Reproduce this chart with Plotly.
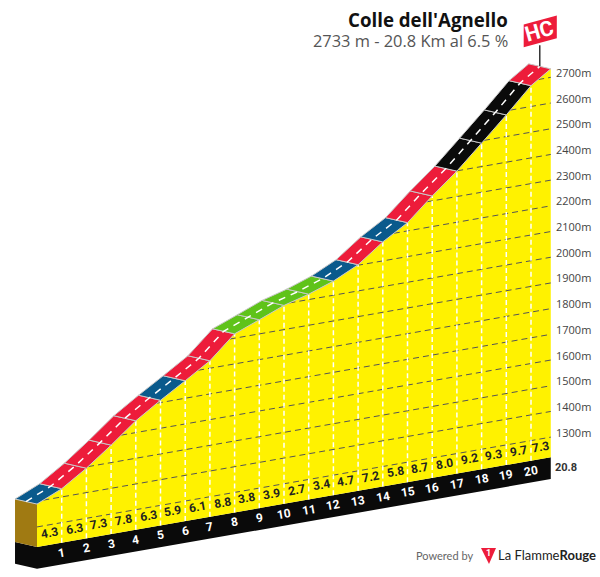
import plotly.graph_objects as go

# km marks, and the elevation of the road at each of them
km = [0, 1, 2, 3, 4, 5, 6, 7, 8, 9, 10, 11, 12, 13, 14, 15, 16, 17, 18, 19, 20, 20.8]
elev = [1389, 1432, 1495, 1568, 1646, 1709, 1768, 1829, 1917, 1955, 1994, 2021, 2055,
        2102, 2174, 2232, 2319, 2399, 2491, 2584, 2681, 2733]
grades = [4.3, 6.3, 7.3, 7.8, 6.3, 5.9, 6.1, 8.8, 3.8, 3.9, 2.7, 3.4, 4.7, 7.2, 5.8,
          8.7, 8.0, 9.2, 9.3, 9.7, 7.3]
levels = [1300, 1400, 1500, 1600, 1700, 1800, 1900, 2000, 2100, 2200, 2300, 2400, 2500, 2600, 2700]

BASE = 1222
FOOT = 85
SKEW = 16.8  # metres of rise per km for the ground line
DEPTH_KM = 0.89
DEPTH_M = 19.5

YELLOW = '#fff200'
GREY = '#555555'


def grade_color(g):
    if g < 4:
        return '#5fc31a'
    if g < 6:
        return '#0a5a8c'
    if g < 9:
        return '#ed1c3a'
    return '#0a0a0a'


def px(k, e, depth=0.0):
    # oblique view: the ground climbs with km, depth goes back and up
    return k - depth * DEPTH_KM, e + k * SKEW + depth * DEPTH_M


def poly(points, color, line=None, width=0):
    xs, ys = zip(*[px(*p) for p in points])
    return go.Scatter(x=list(xs) + [xs[0]], y=list(ys) + [ys[0]], mode='lines', fill='toself',
                      fillcolor=color, line=dict(color=line or color, width=width), hoverinfo='skip')


def dashed(points, color, width, dash):
    xs, ys = zip(*[px(*p) for p in points])
    return go.Scatter(x=list(xs), y=list(ys), mode='lines', line=dict(color=color, width=width, dash=dash),
                      hoverinfo='skip')


def km_at(level):
    for i in range(len(km) - 1):
        if elev[i] <= level <= elev[i + 1]:
            return km[i] + (level - elev[i]) / (elev[i + 1] - elev[i]) * (km[i + 1] - km[i])
    return 0


fig = go.Figure()

# base block
end = km[-1]
fig.add_trace(poly([(0, BASE - FOOT), (end, BASE - FOOT), (end, BASE), (0, BASE), (0, BASE, 1), (0, BASE - FOOT, 1)], '#0a0a0a'))
fig.add_trace(poly([(0, BASE), (0, elev[0]), (0, elev[0], 1), (0, BASE, 1)], '#a07a12'))
fig.add_trace(poly([(0, BASE)] + list(zip(km, elev)) + [(end, BASE)], YELLOW))

# elevation grid
for lev in levels:
    fig.add_trace(dashed([(km_at(lev), lev), (end, lev)], GREY, 1, '6px,4px'))
    x, y = px(end, lev)
    fig.add_annotation(x=x, y=y, text=f'{lev}m', xanchor='left', yanchor='middle', xshift=3, yshift=5,
                       showarrow=False, font=dict(family='Open Sans', size=11, color='#444444'))

# km grid
for k, e in zip(km[1:-1], elev[1:-1]):
    fig.add_trace(dashed([(k, BASE), (k, e)], 'white', 1.5, '5px,3px'))

# road
for i, g in enumerate(grades):
    fig.add_trace(poly([(km[i], elev[i]), (km[i + 1], elev[i + 1]), (km[i + 1], elev[i + 1], 1), (km[i], elev[i], 1)],
                       grade_color(g), line='#c8c8c8', width=1))
fig.add_trace(dashed([(k, e, 0.5) for k, e in zip(km, elev)], 'white', 1.5, '7px,6px'))

# grade and km labels
narrow = 'Roboto'
for i, g in enumerate(grades):
    x, y = px((km[i] + km[i + 1]) / 2, BASE)
    fig.add_annotation(x=x, y=y, text=f'<b>{g}</b>', xanchor='center', yanchor='middle', yshift=12, textangle=-10,
                       showarrow=False, font=dict(family=narrow, size=12, color='#222222'))
for k in km[1:-1]:
    x, y = px(k, BASE)
    fig.add_annotation(x=x, y=y, text=f'<b>{k}</b>', xanchor='center', yanchor='middle', yshift=-10, textangle=-10,
                       showarrow=False, font=dict(family=narrow, size=12, color='white'))
x, y = px(end, BASE)
fig.add_annotation(x=x, y=y, text='<b>20.8</b>', xanchor='left', yanchor='middle', xshift=2, yshift=-10,
                   showarrow=False, font=dict(family=narrow, size=11, color='#333333'))

# HC flag on a pole at the summit
top_x, top_y = px(end, elev[-1], 0.5)
fig.add_shape(type='line', xref='x', yref='y', x0=top_x, y0=top_y, x1=top_x, y1=top_y + 82,
              line=dict(color='#333333', width=1.5))
fig.add_shape(type='path', xref='x', yref='y', fillcolor='#ed1c3a', line_width=0,
              path=f'M {top_x - 0.65} {top_y + 74} L {top_x + 0.69} {top_y + 109} '
                   f'L {top_x + 0.69} {top_y + 198} L {top_x - 0.65} {top_y + 163} Z')
fig.add_annotation(x=top_x, y=top_y + 136, text='<b>HC</b>', textangle=-16, showarrow=False,
                   xanchor='center', yanchor='middle', font=dict(family=narrow, size=21, color='white'))

# titles
fig.add_annotation(xref='paper', yref='paper', x=509 / 600, y=1 - 19.5 / 577, text="<b>Colle dell'Agnello</b>",
                   xanchor='right', yanchor='middle', showarrow=False, borderpad=0,
                   font=dict(family='Open Sans', size=18.7, color='#111111'))
fig.add_annotation(xref='paper', yref='paper', x=509 / 600, y=1 - 41 / 577, text='2733 m - 20.8 Km al 6.5 %',
                   xanchor='right', yanchor='middle', showarrow=False, borderpad=0,
                   font=dict(family='Open Sans', size=16.4, color='#555555'))

# logo
fig.add_annotation(xref='paper', yref='paper', x=475 / 600, y=1 - 555 / 577, text='Powered by',
                   xanchor='right', yanchor='middle', showarrow=False,
                   font=dict(family='Lato', size=11, color='#666666'))
fig.add_shape(type='path', xref='paper', yref='paper', fillcolor='#ed1c3a', line_width=0,
              path=f'M {481 / 600} {1 - 548 / 577} L {496 / 600} {1 - 548 / 577} L {489 / 600} {1 - 564 / 577} Z')
fig.add_annotation(xref='paper', yref='paper', x=488.5 / 600, y=1 - 553 / 577, text='<b>1</b>',
                   xanchor='center', yanchor='middle', showarrow=False,
                   font=dict(family=narrow, size=9, color='white'))
fig.add_annotation(xref='paper', yref='paper', x=496 / 600, y=1 - 555 / 577, text='La Flamme<b>Rouge</b>',
                   xanchor='left', yanchor='middle', showarrow=False,
                   font=dict(family='Lato', size=13, color='#222222'))

# 24.7 px per km, 0.257 px per metre, base line crosses km 0 at y=547
fig.update_xaxes(visible=False, range=[-37 / 24.7, 563 / 24.7])
fig.update_yaxes(visible=False, range=[BASE - 30 / 0.257, BASE + 547 / 0.257])
fig.update_layout(width=600, height=577, margin=dict(l=0, r=0, t=0, b=0), showlegend=False,
                  plot_bgcolor='white', paper_bgcolor='white')
fig.write_html('out.html', config={'displayModeBar': False},
               post_script="document.body.style.margin='0';document.body.style.overflow='hidden';")
